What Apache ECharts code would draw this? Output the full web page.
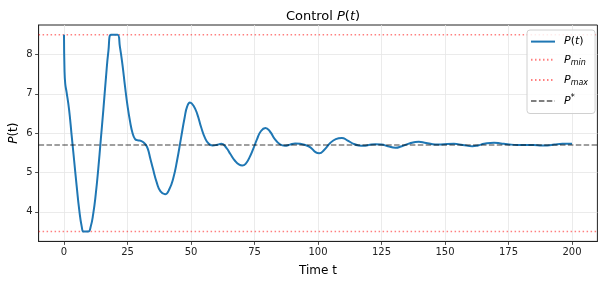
<!DOCTYPE html>
<html><head><meta charset="utf-8">
<script src="https://cdn.jsdelivr.net/npm/echarts@6/dist/echarts.min.js"></script>
<style>html,body{margin:0;padding:0;background:#fff}#c{width:604px;height:283px}</style>
</head><body><div id="c"></div>
<script>
var tVals = [0,0.2,0.5,1,2,3,4,5,6,7,7.7,8.6,9.6,10.5,11.5,12.5,13.5,14.5,15.5,16.5,17.5,18.5,19.8,21.1,22,23,24,25,26,27,28,29,30.5,32,33,34,35,36.5,38,39.8,41.5,43,44.5,46,47.5,48.5,49.6,51,52.5,54,55.5,57,58.5,60,62,64,65.5,67.3,69,70.2,71.5,73,74.5,76,77.5,79.3,81,83,85,87,89,91,93,95,97,99,100.5,102.5,104.8,107,109.4,111.5,114,116,118,120,122.6,125,127.5,130.5,133,136,139.7,142,144.3,147,149.5,153.5,157,160.8,163,165.4,169.3,172,174.6,178.5,182,185,188,190.3,193,196.2,200];
var pVals = [8.5,7.6,7.25,7.05,6.6,5.95,5.3,4.65,4.05,3.62,3.5,3.5,3.5,3.62,3.95,4.45,5.1,5.85,6.6,7.4,8.1,8.5,8.5,8.5,8.2,7.75,7.2,6.7,6.3,6.0,5.85,5.82,5.8,5.72,5.6,5.35,5.1,4.75,4.52,4.45,4.58,4.85,5.3,5.85,6.4,6.68,6.78,6.7,6.48,6.15,5.88,5.73,5.69,5.70,5.73,5.62,5.47,5.30,5.2,5.18,5.22,5.38,5.6,5.85,6.05,6.13,6.05,5.85,5.72,5.68,5.71,5.74,5.73,5.7,5.64,5.52,5.49,5.58,5.75,5.85,5.88,5.82,5.73,5.69,5.68,5.70,5.72,5.71,5.67,5.63,5.67,5.74,5.78,5.76,5.73,5.71,5.72,5.73,5.70,5.67,5.69,5.73,5.76,5.74,5.72,5.70,5.70,5.70,5.69,5.69,5.71,5.73,5.73];
var pMin = 3.5, pMax = 8.5, pStar = 5.7;
var xTicks = [0,25,50,75,100,125,150,175,200];
var yTicks = [4,5,6,7,8];
var xRange = [-10,210];
var yRange = [3.25,8.75];

var data = tVals.map(function(t,i){return [t,pVals[i]];});
function hline(v){return [[xRange[0],v],[xRange[1],v]];}
var F = 'DejaVu Sans';
var chart = echarts.init(document.getElementById('c'));
var axisCommon = {
  axisLine:{show:true,onZero:false,lineStyle:{color:'#222',width:1}},
  axisTick:{show:true,length:3.5,lineStyle:{color:'#222',width:0.8}},
  splitLine:{show:true,lineStyle:{color:'#e6e6e6',width:0.8}},
  axisLabel:{color:'#222',fontFamily:F,fontSize:10}
};
chart.setOption({
  animation:false,
  backgroundColor:'#fff',
  title:{left:318,top:5,textAlign:'center',
    text:'{n|Control }{i|P}{n|(}{i|t}{n|)}',
    textStyle:{fontWeight:'normal',rich:{n:{fontFamily:F,fontSize:13,color:'#000',fontWeight:'normal'},i:{fontFamily:F,fontSize:13,fontStyle:'italic',fontWeight:'normal',color:'#000'}}}},
  grid:{left:38.6,right:6.6,top:25,bottom:41.6,outerBoundsMode:'none',containLabel:false,show:true,borderColor:'#222',borderWidth:1,backgroundColor:'transparent'},
  xAxis:Object.assign({},axisCommon,{type:'value',min:xRange[0],max:xRange[1],
    name:'Time t',nameLocation:'middle',nameGap:23,nameMoveOverlap:false,nameTextStyle:{fontFamily:F,fontSize:12,color:'#000'},
    axisTick:Object.assign({},axisCommon.axisTick,{customValues:xTicks}),
    axisLabel:Object.assign({},axisCommon.axisLabel,{customValues:xTicks,margin:6})}),
  yAxis:Object.assign({},axisCommon,{type:'value',min:yRange[0],max:yRange[1],
    name:'{i|P}{n|(t)}',nameLocation:'middle',nameGap:19,nameRotate:90,nameMoveOverlap:false,
    nameTextStyle:{fontFamily:F,fontSize:12,color:'#000',rich:{i:{fontFamily:F,fontSize:12,fontStyle:'italic',color:'#000'},n:{fontFamily:F,fontSize:12,color:'#000'}}},
    axisTick:Object.assign({},axisCommon.axisTick,{customValues:yTicks}),
    axisLabel:Object.assign({},axisCommon.axisLabel,{customValues:yTicks,margin:6})}),
  legend:{orient:'vertical',left:527,top:30,padding:[6,7,7,3],itemGap:7,itemWidth:24,itemHeight:14,
    backgroundColor:'rgba(255,255,255,0.85)',borderColor:'#d0d0d0',borderWidth:1,borderRadius:3,
    itemStyle:{opacity:0,borderWidth:0},
    data:[{name:'P(t)'},{name:'Pmin'},{name:'Pmax'},{name:'Pstar'}],
    formatter:function(n){
      if(n==='P(t)') return '{i|P}{n|(}{i|t}{n|)}';
      if(n==='Pmin') return '{i|P}{s|min}';
      if(n==='Pmax') return '{i|P}{s|max}';
      return '{i|P}{p|*}';
    },
    textStyle:{padding:[0,0,0,4],rich:{
      n:{fontFamily:F,fontSize:11,color:'#000',padding:[1,0,1,0]},
      i:{fontFamily:F,fontSize:11,fontStyle:'italic',color:'#000',padding:[1,0,1,0]},
      s:{fontFamily:F,fontSize:8,fontStyle:'italic',color:'#000',padding:[7,0,0,0]},
      p:{fontFamily:F,fontSize:8,color:'#000',padding:[0,0,5,0]}
    }}},
  series:[
    {name:'P(t)',type:'line',data:data,smooth:0.5,showSymbol:false,symbol:'none',
      lineStyle:{color:'#1f77b4',width:2},itemStyle:{color:'#1f77b4'},z:3},
    {name:'Pmin',type:'line',data:hline(pMin),showSymbol:false,symbol:'none',
      lineStyle:{color:'rgba(255,0,0,0.5)',width:1.5,type:[1.5,2.5]},itemStyle:{color:'rgba(255,0,0,0.5)'},z:2},
    {name:'Pmax',type:'line',data:hline(pMax),showSymbol:false,symbol:'none',
      lineStyle:{color:'rgba(255,0,0,0.5)',width:1.5,type:[1.5,2.5]},itemStyle:{color:'rgba(255,0,0,0.5)'},z:2},
    {name:'Pstar',type:'line',data:hline(pStar),showSymbol:false,symbol:'none',
      lineStyle:{color:'rgba(0,0,0,0.5)',width:1.5,type:[5.5,2.4]},itemStyle:{color:'rgba(0,0,0,0.5)'},z:4}
  ]
});
</script></body></html>
